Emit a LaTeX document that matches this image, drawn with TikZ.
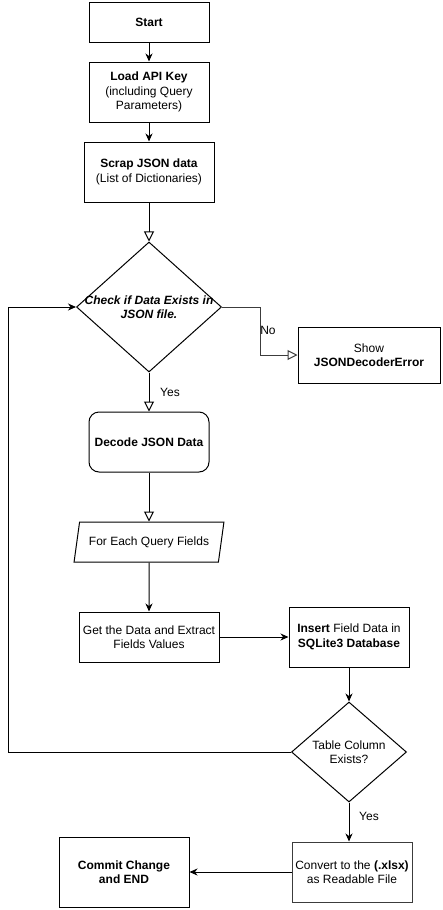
\documentclass[tikz,border=0pt]{standalone}
\usepackage{fontspec}
\setmainfont{Liberation Sans}
\usetikzlibrary{arrows.meta}
\usetikzlibrary{shapes.geometric}
\definecolor{flowline}{RGB}{0,0,0}
\definecolor{flowgray}{RGB}{60,60,60}
\tikzset{>={Stealth[length=8pt,width=7pt,inset=2.5pt]}}
\tikzset{stepbox/.style={draw=flowline,line width=1pt,align=center,inner sep=2pt,font=\fontsize{12pt}{14.5pt}\selectfont}}
\tikzset{roundbox/.style={stepbox,rounded corners=10pt}}
\tikzset{decision/.style={diamond,draw=flowline,line width=1pt,inner sep=0pt}}
\tikzset{inputbox/.style={stepbox,trapezium,trapezium left angle=72,trapezium right angle=108,trapezium stretches=true}}
\tikzset{flow/.style={line width=1pt,->}}
\tikzset{openflow/.style={line width=1pt,-{Triangle[open,length=10pt,width=10pt]}}}
\tikzset{edgelabel/.style={font=\fontsize{12pt}{14.5pt}\selectfont,inner sep=0pt}}

\begin{document}
\begin{tikzpicture}[x=1pt,y=-1pt]
  \useasboundingbox (0,0) rectangle (442,910);
  \node[stepbox,minimum width=120pt,minimum height=40pt] (start) at (149,22) {\textbf{Start}};
  \node[stepbox,minimum width=120pt,minimum height=60pt] (load) at (149,92) {\textbf{Load API Key}\\(including Query\\Parameters)};
  \node[stepbox,minimum width=130pt,minimum height=60pt] (scrap) at (149,172) {\textbf{Scrap JSON data}\\(List of Dictionaries)};
  \node[decision,minimum width=145pt,minimum height=130pt,label={[stepbox,draw=none]center:\textbf{\textit{Check if Data Exists in}}\\\textbf{\textit{JSON file.}}}] (check) at (149,307) {};
  \node[stepbox,minimum width=142pt,minimum height=56pt] (show) at (369,355) {Show\\\textbf{JSONDecoderError}};
  \node[roundbox,minimum width=120pt,minimum height=60pt] (decode) at (149,442) {\textbf{Decode JSON Data}};
  \node[inputbox,minimum width=150pt,minimum height=40pt] (each) at (149,542) {For Each Query Fields};
  \node[stepbox,minimum width=140pt,minimum height=50pt] (getdata) at (149,637) {Get the Data and Extract\\Fields Values};
  \node[stepbox,minimum width=120pt,minimum height=60pt] (insert) at (349,637) {\textbf{Insert} Field Data in\\\textbf{SQLite3 Database}};
  \node[decision,minimum width=115pt,minimum height=100pt,label={[stepbox,draw=none]center:Table Column\\Exists?}] (table) at (349,752) {};
  \node[stepbox,draw=flowgray,minimum width=120pt,minimum height=60pt] (convert) at (352,872) {Convert to the \textbf{(.xlsx)}\\as Readable File};
  \node[stepbox,minimum width=130pt,minimum height=70pt] (commit) at (124,872) {\textbf{Commit Change}\\\textbf{and END}};

  \draw[flow] (start) -- (load);
  \draw[flow] (load) -- (scrap);
  \draw[openflow] (scrap) -- (check);
  \draw[openflow,draw=flowgray] (check.east) -- ++(38,0) |- (show.west);
  \node[edgelabel] (nolabel) at (268,330) {No};
  \draw[openflow] (check) -- (decode);
  \node[edgelabel] (yeslabel) at (170,392) {Yes};
  \draw[openflow] (decode) -- (each);
  \draw[flow] (each) -- (getdata);
  \draw[flow] (getdata) -- (insert);
  \draw[flow] (insert) -- (table);
  \draw[flow] (table.west) -- ++(-283,0) |- (check.west);
  \draw[flow] (table.south) -- (table.south |- convert.north);
  \node[edgelabel] (yesend) at (369,816) {Yes};
  \draw[flow] (convert) -- (commit);
\end{tikzpicture}
\end{document}
